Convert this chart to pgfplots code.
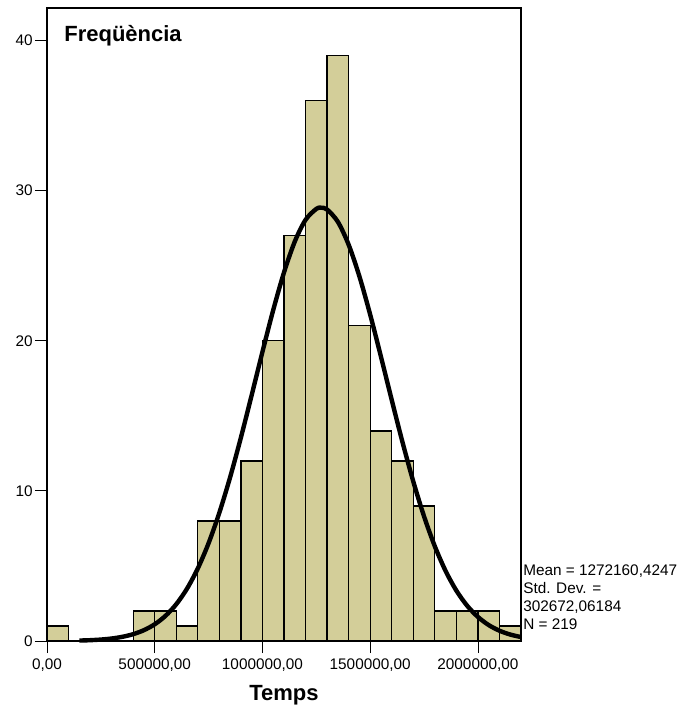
\documentclass[border=0pt]{standalone}
\usepackage{pgfplots}
\pgfplotsset{compat=1.18}
\usepackage{fontspec}
\setmainfont{Liberation Sans}
\definecolor{barfill}{RGB}{211,206,153}
\begin{document}
\begin{tikzpicture}
\useasboundingbox (-35.25pt,-48.75pt) rectangle ++(511.5pt,529.5pt);
\begin{axis}[
  at={(0,0)}, anchor=south west,
  scale only axis, width=355.5pt, height=474.75pt,
  xmin=0, xmax=2200000, ymin=0, ymax=42.17,
  axis line style={black, line width=1pt},
  xtick={0,500000,1000000,1500000,2000000},
  xticklabels={{0,00},{500000,00},{1000000,00},{1500000,00},{2000000,00}},
  ytick={0,10,20,30,40},
  tick align=outside, major tick length=9pt, tick pos=left,
  tick style={black, line width=0.6pt},
  ticklabel style={font=\fontsize{11.5}{13}\selectfont},
  yticklabel style={inner xsep=1.5pt},
  xticklabel style={yshift=-1pt},
  /pgf/number format/assume math mode=true,
  scaled x ticks=false,
  xlabel={Temps},
  xlabel style={font=\bfseries\fontsize{16.5}{18}\selectfont, yshift=-3pt},
  clip=false,
]
\addplot[ybar interval, fill=barfill, draw=black, line width=1pt] coordinates {
(0,1)(100000,0)(200000,0)(300000,0)(400000,2)(500000,2)(600000,1)(700000,8)
(800000,8)(900000,12)(1000000,20)(1100000,27)(1200000,36)(1300000,39)
(1400000,21)(1500000,14)(1600000,12)(1700000,9)(1800000,2)(1900000,2)
(2000000,2)(2100000,1)(2200000,1)};
\addplot[black, line width=3.3pt, smooth, line join=round] coordinates {
(150000,0.030)(200000,0.054)(250000,0.096)(300000,0.166)(350000,0.279)
(400000,0.454)(450000,0.722)(500000,1.115)(550000,1.676)(600000,2.452)
(650000,3.490)(700000,4.835)(750000,6.517)(800000,8.550)(850000,10.913)
(900000,13.554)(950000,16.382)(1000000,19.267)(1050000,22.049)(1100000,24.554)
(1150000,26.608)(1200000,28.057)(1250000,28.789)(1272160,28.866)(1300000,28.744)
(1350000,27.927)(1400000,26.402)(1450000,24.289)(1500000,21.743)(1550000,18.941)
(1600000,16.056)(1650000,13.244)(1700000,10.630)(1750000,8.302)(1800000,6.310)
(1850000,4.666)(1900000,3.357)(1950000,2.351)(2000000,1.603)(2050000,1.062)
(2100000,0.686)(2150000,0.430)(2200000,0.263)};
\node[anchor=base west, inner sep=0, font=\bfseries\fontsize{16.5}{18}\selectfont]
  at (rel axis cs:0.036,0.947) {Freqüència};
\node[anchor=north west, inner sep=0, align=left, font=\fontsize{11.5}{13.5}\selectfont]
  at ([xshift=1.5pt, yshift=57pt]rel axis cs:1,0) {Mean = 1272160,4247\\Std. Dev. =\\302672,06184\\N = 219};
\end{axis}
\end{tikzpicture}
\end{document}
